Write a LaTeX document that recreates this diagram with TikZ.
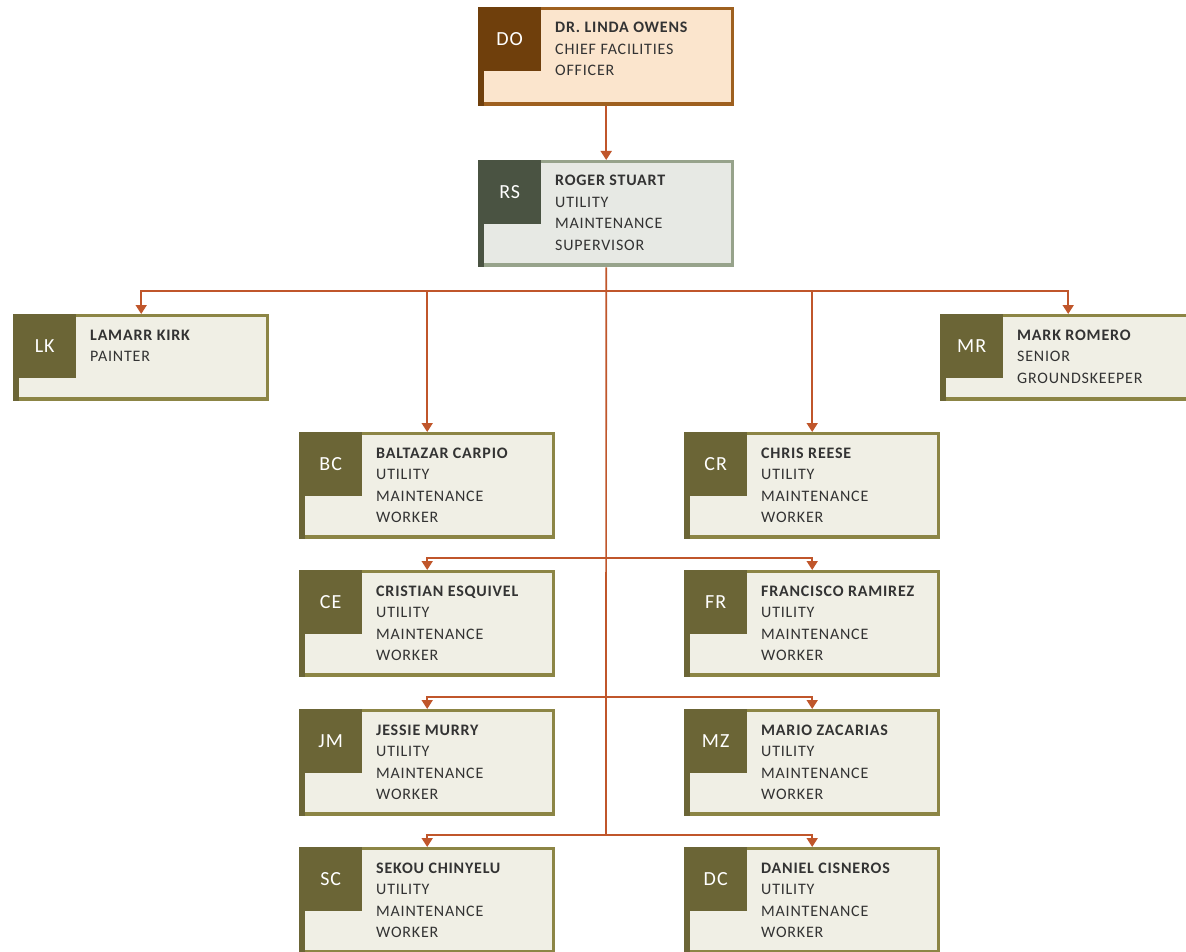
\documentclass[tikz,border=0pt]{standalone}
\usepackage{fontspec}
\setmainfont{Carlito}[LetterSpace=5]
\usetikzlibrary{arrows.meta}
\definecolor{doborder}{HTML}{9E601F}
\definecolor{dosq}{HTML}{6F3F0C}
\definecolor{dofill}{HTML}{FBE5CD}
\definecolor{rsborder}{HTML}{97A38B}
\definecolor{rssq}{HTML}{4A5342}
\definecolor{rsfill}{HTML}{E7E9E4}
\definecolor{wkborder}{HTML}{8C8545}
\definecolor{wksq}{HTML}{6B6536}
\definecolor{wkfill}{HTML}{F0EFE5}
\definecolor{conn}{HTML}{C0562B}
\definecolor{txtc}{HTML}{333333}
\tikzset{
  txt/.style={anchor=base west, inner sep=0, text=txtc, font=\fontsize{16}{19}\selectfont},
  ini/.style={anchor=north west, inner sep=0, minimum width=63pt, minimum height=64pt, text=white, font=\fontsize{20}{24}\selectfont},
  line/.style={draw=conn, line width=1.7pt},
  arr/.style={line, -{Triangle[width=11pt,length=9pt]}}
}
\newcommand\pbox[8]{%
  \node[anchor=north west, minimum width=#4pt, minimum height=#5pt, inner sep=0, fill=#8border] (#1) at (#2,#3) {};
  \fill[#8fill] (#2+6,#3+3) rectangle (#2+#4-3,#3+#5-4);
  \fill[#8sq] (#2,#3) rectangle (#2+6,#3+#5);
  \node[ini, fill=#8sq] (#1-i) at (#2,#3) {#6};
  \foreach \l [count=\i] in {#7} {\node[txt] (#1-t\i) at (#2+77,#3+26+21.5*\i-21.5) {\l};}
}
\begin{document}
\begin{tikzpicture}[x=1pt,y=-1pt]
\useasboundingbox (0,0) rectangle (1186,952);
\clip (0,0) rectangle (1186,952);
\fill[white] (0,0) rectangle (1186,952);
\pbox{do}{478}{7}{256}{99}{DO}{\textbf{DR. LINDA OWENS},CHIEF FACILITIES,OFFICER}{do}
\pbox{rs}{478}{160}{256}{107}{RS}{\textbf{ROGER STUART},UTILITY,MAINTENANCE,SUPERVISOR}{rs}
\pbox{lk}{13}{314}{256}{87}{LK}{\textbf{LAMARR KIRK},PAINTER}{wk}
\pbox{mr}{940}{314}{256}{87}{MR}{\textbf{MARK ROMERO},SENIOR,GROUNDSKEEPER}{wk}
\pbox{bc}{299}{432}{256}{107}{BC}{\textbf{BALTAZAR CARPIO},UTILITY,MAINTENANCE,WORKER}{wk}
\pbox{cr}{684}{432}{256}{107}{CR}{\textbf{CHRIS REESE},UTILITY,MAINTENANCE,WORKER}{wk}
\pbox{ce}{299}{570}{256}{107}{CE}{\textbf{CRISTIAN ESQUIVEL},UTILITY,MAINTENANCE,WORKER}{wk}
\pbox{fr}{684}{570}{256}{107}{FR}{\textbf{FRANCISCO RAMIREZ},UTILITY,MAINTENANCE,WORKER}{wk}
\pbox{jm}{299}{709}{256}{107}{JM}{\textbf{JESSIE MURRY},UTILITY,MAINTENANCE,WORKER}{wk}
\pbox{mz}{684}{709}{256}{107}{MZ}{\textbf{MARIO ZACARIAS},UTILITY,MAINTENANCE,WORKER}{wk}
\pbox{sc}{299}{847}{256}{107}{SC}{\textbf{SEKOU CHINYELU},UTILITY,MAINTENANCE,WORKER}{wk}
\pbox{dc}{684}{847}{256}{107}{DC}{\textbf{DANIEL CISNEROS},UTILITY,MAINTENANCE,WORKER}{wk}
% connectors
\coordinate (bus) at (606,291);
\coordinate (r1) at (606,558);
\coordinate (r2) at (606,697);
\coordinate (r3) at (606,835);
\draw[arr] (do.south) -- (rs.north);
\draw[line] (rs.south) -- (r3);
\draw[arr] (bus) -| (lk.north);
\draw[arr] (bus) -| (bc.north);
\draw[arr] (bus) -| (cr.north);
\draw[arr] (bus) -| (mr.north);
\draw[arr] (r1) -| (ce.north);
\draw[arr] (r1) -| (fr.north);
\draw[arr] (r2) -| (jm.north);
\draw[arr] (r2) -| (mz.north);
\draw[arr] (r3) -| (sc.north);
\draw[arr] (r3) -| (dc.north);
\end{tikzpicture}
\end{document}
